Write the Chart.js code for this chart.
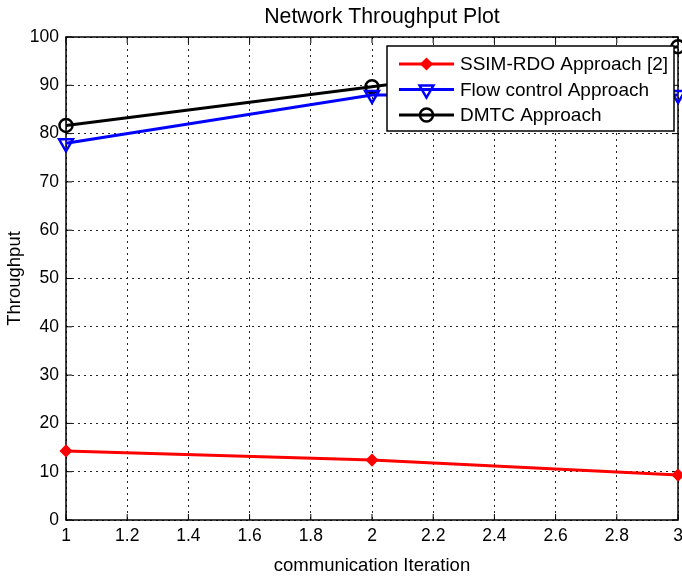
<!DOCTYPE html>
<html>
<head>
<meta charset="utf-8">
<title>Network Throughput Plot</title>
<script src="https://cdn.jsdelivr.net/npm/chart.js@4.4.0/dist/chart.umd.min.js"></script>
<style>
  html, body { margin: 0; padding: 0; background: #fff; }
  #wrap { width: 682px; height: 577px; }
</style>
</head>
<body>
<div id="wrap"><canvas id="c" width="682" height="577"></canvas></div>
<script>
// Throughput per communication iteration for each approach
const iterations = [1, 2, 3];
const ssimRdo = [14.3, 12.4, 9.3];
const flowControl = [78.0, 88.0, 88.0];
const dmtc = [81.7, 89.7, 98.0];

const seriesNames = ['SSIM-RDO Approach [2]', 'Flow control Approach', 'DMTC Approach'];

// Axis ticks
const xTickValues = [1, 1.2, 1.4, 1.6, 1.8, 2, 2.2, 2.4, 2.6, 2.8, 3];
const xTickLabels = ['1', '1.2', '1.4', '1.6', '1.8', '2', '2.2', '2.4', '2.6', '2.8', '3'];
const yTickValues = [0, 10, 20, 30, 40, 50, 60, 70, 80, 90, 100];

const FONT = '"Liberation Sans", Arial, Helvetica, sans-serif';
Chart.defaults.font.family = FONT;
Chart.defaults.color = '#000';

const toPoints = (ys) => iterations.map((x, i) => ({ x, y: ys[i] }));

// Box around the axes with short inward tick marks on all four sides
const axesFrame = {
  id: 'axesFrame',
  beforeDatasetsDraw(chart) {
    const { ctx, chartArea: a, scales: { x, y } } = chart;
    const len = 6;
    ctx.save();
    ctx.strokeStyle = '#000';
    ctx.lineWidth = 1;
    ctx.beginPath();
    x.ticks.forEach(t => {
      const px = x.getPixelForValue(t.value);
      ctx.moveTo(px, a.bottom); ctx.lineTo(px, a.bottom - len);
      ctx.moveTo(px, a.top); ctx.lineTo(px, a.top + len);
    });
    y.ticks.forEach(t => {
      const py = y.getPixelForValue(t.value);
      ctx.moveTo(a.left, py); ctx.lineTo(a.left + len, py);
      ctx.moveTo(a.right, py); ctx.lineTo(a.right - len, py);
    });
    ctx.stroke();
    ctx.lineWidth = 1.5;
    ctx.strokeRect(a.left, a.top, a.right - a.left, a.bottom - a.top);
    ctx.restore();
  }
};

// Chart title above the axes
const plotTitle = {
  id: 'plotTitle',
  afterDraw(chart) {
    const { ctx } = chart;
    ctx.save();
    ctx.fillStyle = '#000';
    ctx.font = '21.3px ' + FONT;
    ctx.textAlign = 'center';
    ctx.textBaseline = 'alphabetic';
    ctx.fillText('Network Throughput Plot', 382, 23);
    ctx.restore();
  }
};

// Boxed legend in the upper right corner of the axes
const boxedLegend = {
  id: 'boxedLegend',
  afterDatasetsDraw(chart) {
    const { ctx, chartArea: a } = chart;
    const w = 287, h = 85;
    const right = a.right - 4, top = a.top + 9;
    const left = right - w;
    ctx.save();
    ctx.fillStyle = '#fff';
    ctx.fillRect(left, top, w, h);
    ctx.strokeStyle = '#000';
    ctx.lineWidth = 1.5;
    ctx.strokeRect(left, top, w, h);
    chart.data.datasets.forEach((ds, i) => {
      const cy = top + 18 + i * 25.5;
      const x0 = left + 12, x1 = left + 67, xm = (x0 + x1) / 2;
      ctx.strokeStyle = ds.borderColor;
      ctx.lineWidth = ds.borderWidth;
      ctx.beginPath();
      ctx.moveTo(x0, cy);
      ctx.lineTo(x1, cy);
      ctx.stroke();
      ctx.fillStyle = ds.pointBackgroundColor;
      ctx.strokeStyle = ds.pointBorderColor;
      ctx.lineWidth = ds.pointBorderWidth;
      Chart.helpers.drawPoint(ctx, {
        pointStyle: ds.pointStyle,
        radius: ds.pointRadius,
        rotation: ds.pointRotation || 0,
        borderWidth: ds.pointBorderWidth
      }, xm, cy);
      ctx.fillStyle = '#000';
      ctx.font = '19px ' + FONT;
      ctx.textAlign = 'left';
      ctx.textBaseline = 'middle';
      ctx.fillText(ds.label, left + 73, cy + 1);
    });
    ctx.restore();
  }
};

new Chart(document.getElementById('c'), {
  type: 'line',
  data: {
    datasets: [
      {
        label: seriesNames[0],
        data: toPoints(ssimRdo),
        borderColor: '#ff0000',
        borderWidth: 3,
        pointStyle: 'rectRot',
        pointRadius: 5.5,
        pointBackgroundColor: '#ff0000',
        pointBorderColor: '#ff0000',
        pointBorderWidth: 1.5,
        clip: false
      },
      {
        label: seriesNames[1],
        data: toPoints(flowControl),
        borderColor: '#0000ff',
        borderWidth: 3,
        pointStyle: 'triangle',
        pointRotation: 180,
        pointRadius: 8,
        pointBackgroundColor: 'rgba(0,0,0,0)',
        pointBorderColor: '#0000ff',
        pointBorderWidth: 2.5,
        clip: false
      },
      {
        label: seriesNames[2],
        data: toPoints(dmtc),
        borderColor: '#000000',
        borderWidth: 3,
        pointStyle: 'circle',
        pointRadius: 6.5,
        pointBackgroundColor: 'rgba(0,0,0,0)',
        pointBorderColor: '#000000',
        pointBorderWidth: 2.5,
        clip: false
      }
    ]
  },
  options: {
    responsive: false,
    animation: false,
    devicePixelRatio: 1,
    layout: { padding: { top: 37, right: 4, left: 0, bottom: 0 }, autoPadding: false },
    plugins: {
      legend: { display: false },
      title: { display: false },
      tooltip: { enabled: false }
    },
    scales: {
      x: {
        type: 'linear',
        min: 1,
        max: 3,
        afterBuildTicks: s => { s.ticks = xTickValues.map(v => ({ value: v })); },
        afterFit: s => { s.height = 57; s.paddingLeft = 0; s.paddingRight = 0; },
        grid: { color: '#222', lineWidth: 1, drawTicks: false },
        border: { display: false, dash: [2, 4] },
        ticks: {
          padding: 6,
          font: { size: 17.5 },
          maxRotation: 0,
          autoSkip: false,
          callback: (v, i) => xTickLabels[i]
        },
        title: {
          display: true,
          text: 'communication Iteration',
          font: { size: 18.5 },
          padding: { top: 0, bottom: 0 }
        }
      },
      y: {
        type: 'linear',
        min: 0,
        max: 100,
        afterBuildTicks: s => { s.ticks = yTickValues.map(v => ({ value: v })); },
        afterFit: s => { s.width = 66; s.paddingTop = 0; s.paddingBottom = 0; },
        grid: { color: '#222', lineWidth: 1, drawTicks: false },
        border: { display: false, dash: [2, 4] },
        ticks: {
          padding: 7,
          font: { size: 17.5 },
          autoSkip: false,
          callback: v => String(v)
        },
        title: {
          display: true,
          text: 'Throughput',
          font: { size: 18.5 },
          padding: { top: 4, bottom: 0 }
        }
      }
    }
  },
  plugins: [axesFrame, boxedLegend, plotTitle]
});
</script>
</body>
</html>
